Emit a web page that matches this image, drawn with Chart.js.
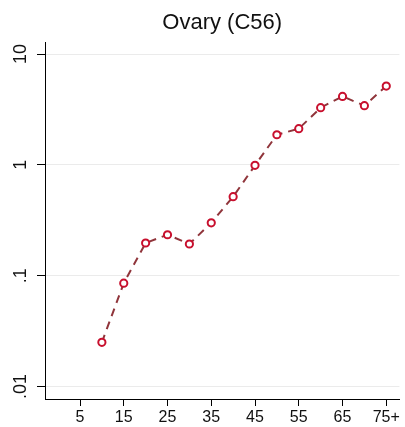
<!DOCTYPE html>
<html>
<head>
<meta charset="utf-8">
<script src="https://cdn.jsdelivr.net/npm/chart.js@4"></script>
<style>
  html, body { margin: 0; padding: 0; background: #fff; }
  canvas { display: block; }
</style>
</head>
<body>
<canvas id="chart" width="405" height="427"></canvas>
<script>
// age group (start of band) and rate per 100,000
const ages = [10, 15, 20, 25, 30, 35, 40, 45, 50, 55, 60, 65, 70, 75];
const rates = [0.025, 0.0855, 0.197, 0.234, 0.193, 0.30, 0.516, 0.99, 1.87, 2.12, 3.28, 4.15, 3.42, 5.14];
const xTicks = [5, 15, 25, 35, 45, 55, 65, 75];
const xTickLabels = ['5', '15', '25', '35', '45', '55', '65', '75+'];
const yTicks = [0.01, 0.1, 1, 10];
const yTickLabels = ['.01', '.1', '1', '10'];
const titleText = 'Ovary (C56)';

const font = "Arial, 'Liberation Sans', sans-serif";

// title is centred over the plot area, and y labels are rotated,
// so both are drawn here using the chart's own area and scale
const textPlugin = {
  id: 'texts',
  afterDraw(chart) {
    const ctx = chart.ctx;
    const y = chart.scales.y;
    const area = chart.chartArea;
    ctx.save();
    ctx.fillStyle = '#111';
    ctx.font = '22px ' + font;
    ctx.textAlign = 'center';
    ctx.textBaseline = 'middle';
    ctx.fillText(titleText, (area.left + area.right) / 2, 23);
    ctx.font = '18px ' + font;
    yTicks.forEach((v, i) => {
      ctx.save();
      ctx.translate(21, y.getPixelForValue(v));
      ctx.rotate(-Math.PI / 2);
      ctx.fillText(yTickLabels[i], 0, 0);
      ctx.restore();
    });
    ctx.restore();
  }
};

const points = ages.map((a, i) => ({ x: a, y: rates[i] }));

new Chart(document.getElementById('chart').getContext('2d'), {
  type: 'scatter',
  data: {
    datasets: [{
      data: points,
      showLine: true,
      borderColor: '#90353b',
      borderWidth: 2,
      borderDash: [8, 6],
      pointRadius: 3.6,
      pointBorderWidth: 2,
      pointBorderColor: '#c8102e',
      pointBackgroundColor: '#fff',
      pointHoverRadius: 3.6
    }]
  },
  options: {
    responsive: false,
    animation: false,
    layout: { padding: { left: 0, right: 2, top: 42, bottom: 0 } },
    plugins: {
      legend: { display: false },
      tooltip: { enabled: false },
      title: { display: false }
    },
    scales: {
      x: {
        type: 'linear',
        min: -3,
        max: 78,
        afterBuildTicks: s => { s.ticks = xTicks.map(v => ({ value: v })); },
        afterFit: s => { s.height = 28; },
        ticks: {
          color: '#111',
          font: { family: font, size: 16 },
          padding: 2,
          maxRotation: 0,
          autoSkip: false,
          callback: v => xTickLabels[xTicks.indexOf(v)]
        },
        grid: {
          drawOnChartArea: false,
          tickColor: '#000',
          tickLength: 7,
          tickWidth: 1
        },
        border: { color: '#000', width: 1 }
      },
      y: {
        type: 'logarithmic',
        min: 0.0077,
        max: 12.85,
        afterBuildTicks: s => { s.ticks = yTicks.map(v => ({ value: v })); },
        afterFit: s => { s.width = 45; },
        ticks: { display: false },
        grid: {
          color: '#ebebeb',
          lineWidth: 1,
          tickColor: '#000',
          tickLength: 8,
          tickWidth: 1
        },
        border: { color: '#000', width: 1 }
      }
    }
  },
  plugins: [textPlugin]
});
</script>
</body>
</html>
